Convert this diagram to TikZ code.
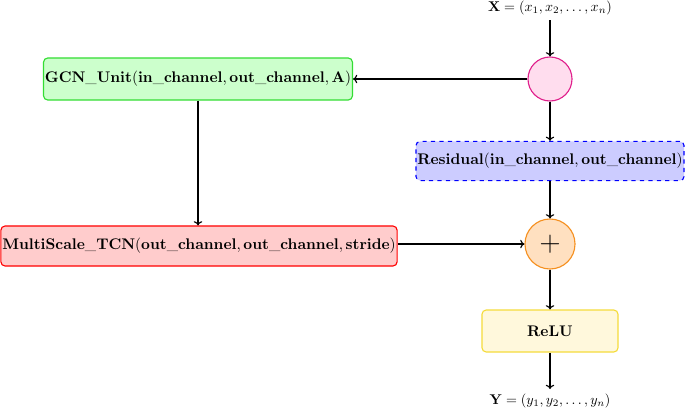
\documentclass[tikz,border=0pt]{standalone}
\usepackage{amsmath,amssymb,xcolor,tikz}
\usetikzlibrary{arrows.meta,positioning}
\definecolor{gcnfill}{HTML}{CCFFCC}
\definecolor{gcnline}{HTML}{33DD33}
\definecolor{resfill}{HTML}{CCCCFF}
\definecolor{tcnfill}{HTML}{FFCCCC}
\definecolor{relufill}{HTML}{FFF8DC}
\definecolor{reluline}{HTML}{F5DC3C}
\definecolor{splitfill}{HTML}{FFDDEE}
\definecolor{splitline}{HTML}{E0208C}
\definecolor{addfill}{HTML}{FFE0C0}
\definecolor{addline}{HTML}{F59020}

\tikzset{
  block/.style={rounded corners=3pt,thick,minimum height=1.05cm,inner xsep=1pt,
    font=\fontsize{10.7}{13}\selectfont},
  joint/.style={circle,thick,inner sep=0pt},
  flow/.style={-{To[length=3pt,width=6pt]},thick}
}

\begin{document}
\begin{tikzpicture}[x=0.025cm,y=-0.025cm]
\useasboundingbox (0,0) rectangle (685,409);
\node (xin) at (550,8) {$\mathbf{X}=(x_1,x_2,\ldots,x_n)$};
\node[joint,fill=splitfill,draw=splitline,minimum size=1.1cm] (split) at (550,79) {};
\node[block,fill=gcnfill,draw=gcnline,minimum width=7.6cm] (gcn) at (198,79)
  {$\mathbf{GCN\_Unit(in\_channel, out\_channel, A)}$};
\node[block,fill=resfill,draw=blue,dashed,minimum width=6.7cm,minimum height=0.98cm] (res) at (550,161)
  {$\mathbf{Residual(in\_channel, out\_channel)}$};
\node[joint,fill=addfill,draw=addline,minimum size=1.25cm] (add) at (550,244) {\huge$+$};
\node[block,fill=tcnfill,draw=red,minimum width=9.9cm,minimum height=1cm] (tcn) at (199,246)
  {$\mathbf{MultiScale\_TCN(out\_channel, out\_channel, stride)}$};
\node[block,fill=relufill,draw=reluline,minimum width=3.4cm] (relu) at (550,331) {$\mathbf{ReLU}$};
\node (yout) at (550,401) {$\mathbf{Y}=(y_1,y_2,\ldots,y_n)$};

\draw[flow] (xin) -- (split);
\draw[flow] (split) -- (gcn);
\draw[flow] (split) -- (res);
\draw[flow] (res) -- (add);
\draw[flow] (gcn) -- (gcn|-tcn.north);
\draw[flow] (tcn.east|-add) -- (add);
\draw[flow] (add) -- (relu);
\draw[flow] (relu) -- (yout);
\end{tikzpicture}
\end{document}
